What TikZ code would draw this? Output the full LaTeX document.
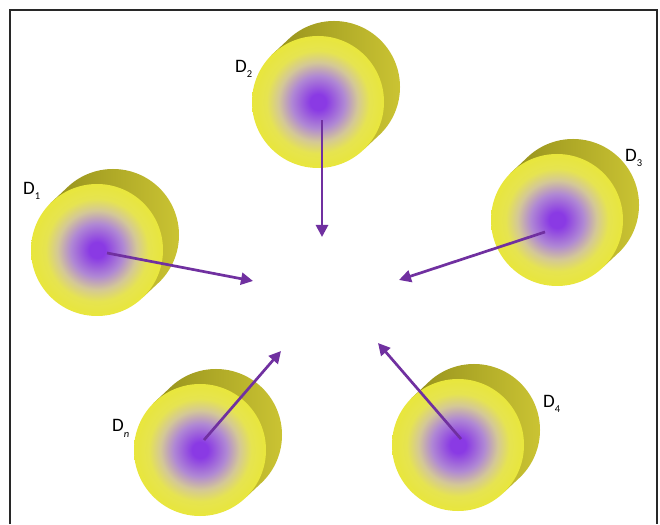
\documentclass[tikz,border=0pt]{standalone}
\usepackage{fontspec}
\setmainfont{Carlito}
\usetikzlibrary{calc,arrows.meta}
\definecolor{pcore}{RGB}{138,58,228}
\definecolor{pmid}{RGB}{176,136,212}
\definecolor{pbeige}{RGB}{212,200,150}
\definecolor{yel}{RGB}{230,228,80}
\definecolor{yeledge}{RGB}{232,230,60}
\definecolor{olivedk}{RGB}{150,145,28}
\definecolor{olivelt}{RGB}{205,198,52}
\definecolor{arrowc}{RGB}{112,48,160}
\definecolor{framec}{RGB}{40,40,40}
\pgfdeclareradialshading{diskface}{\pgfpoint{0bp}{0bp}}{color(0bp)=(pcore); color(3bp)=(pcore); color(10bp)=(pmid); color(15bp)=(pbeige); color(19.5bp)=(yel); color(25bp)=(yeledge); color(50bp)=(yeledge)}
\tikzset{
  arr/.style={draw=arrowc, line width=2.7pt, -{Triangle[length=12pt,width=12pt]}},
  lab/.style={anchor=base west, inner sep=0pt, font=\fontsize{19}{22}\selectfont},
  backside/.style={left color=olivedk, right color=olivelt},
}
\newcommand\lsub[1]{\raisebox{-5pt}{\fontsize{10.5}{10.5}\selectfont #1}}
\newcommand\cylinderdisk[2]{%
  \coordinate (#1) at #2;
  \shade[backside] ($(#1)+(-45:66)$) -- ($(#1)+(-45:66)+(16,15)$) arc[start angle=-45,end angle=135,radius=66] -- ($(#1)+(135:66)$) -- cycle;
  \shade[shading=diskface] (#1) circle[radius=66];
}
\begin{document}
\begin{tikzpicture}[x=1pt,y=1pt]
\useasboundingbox (0,0) rectangle (660,524);
\fill[white] (0,0) rectangle (660,524);
\draw[framec, line width=1.2pt] (10,0) -- (10,514) -- (657,514) -- (657,0);

\cylinderdisk{d1}{(97,274)}
\cylinderdisk{d2}{(318,422)}
\cylinderdisk{d3}{(557,304)}
\cylinderdisk{dn}{(200,74)}
\cylinderdisk{d4}{(458,79)}

\coordinate (s2) at (322,404); \coordinate (t2) at (322,287);
\coordinate (s1) at (107,271); \coordinate (t1) at (253,243);
\coordinate (s3) at (545,292); \coordinate (t3) at (399,244);
\coordinate (sn) at (204,84);  \coordinate (tn) at (281,173);
\coordinate (s4) at (461,85);  \coordinate (t4) at (378,181);

\draw[arr] (s2) -- (t2);
\draw[arr] (s1) -- (t1);
\draw[arr] (s3) -- (t3);
\draw[arr] (sn) -- (tn);
\draw[arr] (s4) -- (t4);

\node[lab] (l2) at (235,451) {D\lsub{2}};
\node[lab] (l1) at (23,329) {D\lsub{1}};
\node[lab] (l3) at (625,362) {D\lsub{3}};
\node[lab] (ln) at (112,92) {D\lsub{\itshape n}};
\node[lab] (l4) at (543,116) {D\lsub{4}};
\end{tikzpicture}
\end{document}
